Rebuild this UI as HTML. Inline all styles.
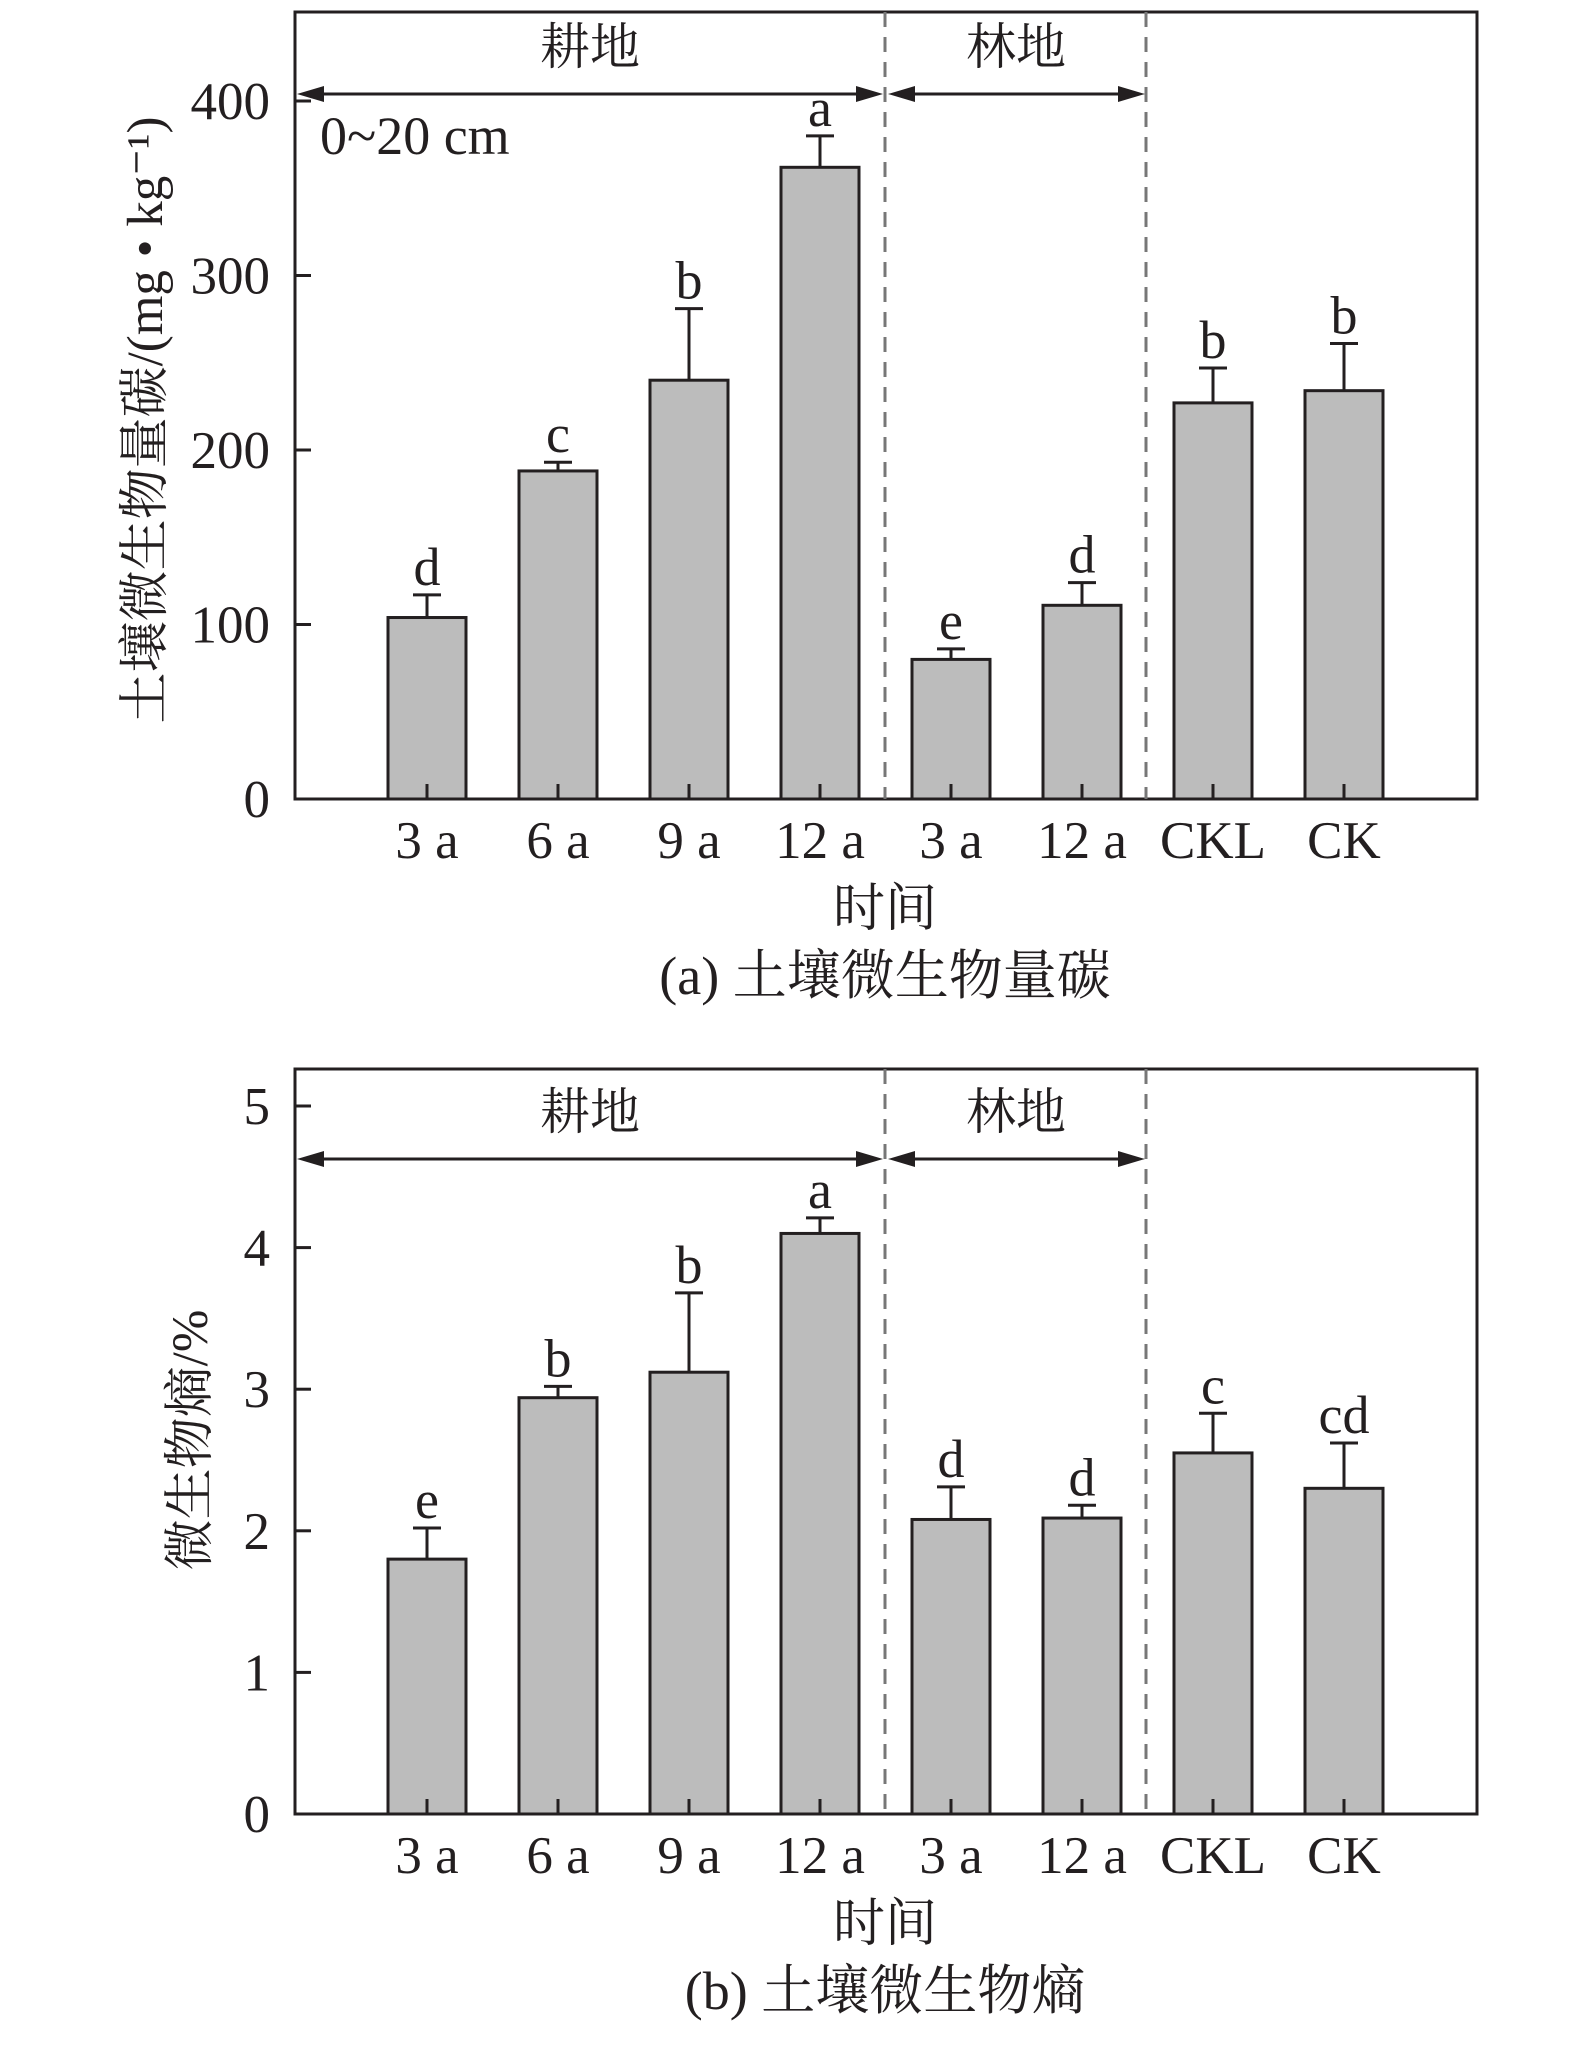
<!DOCTYPE html>
<html><head><meta charset="utf-8"><style>
html,body{margin:0;padding:0;background:#fff}
svg{display:block}
text{font-family:"Liberation Serif","Noto Serif CJK SC","Noto Sans CJK SC",serif;fill:#231f20}
</style></head><body>
<svg id="c" width="1575" height="2046" viewBox="0 0 1575 2046"></svg>
<script>
const categories=["3 a","6 a","9 a","12 a","3 a","12 a","CKL","CK"];
const valuesA=[104,188,240,362,80,111,227,234];
const errTopA=[117,193,281,380,86,124,247,261];
const lettersA=["d","c","b","a","e","d","b","b"];
const ticksA=[0,100,200,300,400];
const valuesB=[1.80,2.94,3.12,4.10,2.08,2.09,2.55,2.30];
const errTopB=[2.02,3.02,3.68,4.21,2.31,2.18,2.83,2.62];
const lettersB=["e","b","b","a","d","d","c","cd"];
const ticksB=[0,1,2,3,4,5];

const NS="http://www.w3.org/2000/svg";
const svg=document.getElementById('c');
function el(tag,attrs,parent,txt){const e=document.createElementNS(NS,tag);for(const k in attrs)e.setAttribute(k,attrs[k]);if(txt!==undefined)e.textContent=txt;(parent||svg).appendChild(e);return e;}
const L=295,R=1477;
function xPos(i){return 427+131*i;}

function panel(cfg){
  const g=el('g',{});
  
  
  const yS=v=>cfg.y0-(v-0)*(cfg.y0-cfg.yMaxPix)/cfg.vMax;
  const fr=el('rect',{x:L,y:cfg.top,width:R-L,height:cfg.y0-cfg.top,fill:'none',stroke:'#231f20','stroke-width':3},g);
  
  cfg.ticks.forEach(t=>{
    const y=yS(t);
    const tl=el('line',{x1:L,x2:L+16,y1:y,y2:y,stroke:'#231f20','stroke-width':3},g);
    
    const tx=el('text',{x:270,y:y+18,'text-anchor':'end','font-size':53},g,String(t));
    
  });
  [885,1146].forEach(x=>{
    const d=el('line',{x1:x,x2:x,y1:cfg.top,y2:cfg.y0,stroke:'#777','stroke-width':3,'stroke-dasharray':'15 10'},g);
    
  });
  function arrow(x1,x2,y,name){
    const a=el('g',{},g);
    
    el('line',{x1:x1+20,x2:x2-20,y1:y,y2:y,stroke:'#231f20','stroke-width':3},a);
    el('polygon',{points:`${x1},${y} ${x1+27},${y-8} ${x1+27},${y+8}`,fill:'#231f20'},a);
    el('polygon',{points:`${x2},${y} ${x2-27},${y-8} ${x2-27},${y+8}`,fill:'#231f20'},a);
  }
  arrow(297,883,cfg.arrowY,'cropland-arrow');
  arrow(888,1145,cfg.arrowY,'forest-arrow');
  const g1=el('text',{x:590,y:cfg.arrowY-30,'text-anchor':'middle','font-size':50},g,'耕地');
  
  const g2=el('text',{x:1016,y:cfg.arrowY-30,'text-anchor':'middle','font-size':50},g,'林地');
  
  categories.forEach((c,i)=>{
    const cx=xPos(i), yt=yS(cfg.values[i]);
    const b=el('rect',{x:cx-39,y:yt,width:78,height:cfg.y0-yt,fill:'#bcbcbc',stroke:'#231f20','stroke-width':3},g);
    
    const tk=el('line',{x1:cx,x2:cx,y1:cfg.y0,y2:cfg.y0-15,stroke:'#231f20','stroke-width':3},g);
    
    const ye=yS(cfg.err[i]);
    const eb=el('path',{d:`M${cx},${yt} V${ye} M${cx-14},${ye} H${cx+14}`,stroke:'#231f20','stroke-width':3,fill:'none'},g);
    
    const lt=el('text',{x:cx,y:ye-10,'text-anchor':'middle','font-size':54},g,cfg.letters[i]);
    
    const xl=el('text',{x:cx,y:cfg.y0+59,'text-anchor':'middle','font-size':53},g,c);
    
  });
  const xt=el('text',{x:885,y:cfg.y0+127,'text-anchor':'middle','font-size':52},g,'时间');
  
  const cp=el('text',{x:885,y:cfg.y0+195,'text-anchor':'middle','font-size':54},g,cfg.caption);
  
  const yt=el('text',{x:0,y:0,'text-anchor':'middle','font-size':51,transform:`translate(${cfg.yLabelX},${cfg.yLabelY}) rotate(-90)`},g,cfg.yLabel);
  
  return yS;
}
panel({name:'panel-a-microbial-biomass-carbon',top:12,y0:799,yMaxPix:101,vMax:400,ticks:ticksA,values:valuesA,err:errTopA,letters:lettersA,arrowY:94,caption:'(a) 土壤微生物量碳',yLabel:'土壤微生物量碳/(mg • kg⁻¹)',yLabelX:162,yLabelY:420});
panel({name:'panel-b-microbial-quotient',top:1069,y0:1814,yMaxPix:1106,vMax:5,ticks:ticksB,values:valuesB,err:errTopB,letters:lettersB,arrowY:1159,caption:'(b) 土壤微生物熵',yLabel:'微生物熵/%',yLabelX:207,yLabelY:1440});
const dep=el('text',{x:320,y:154,'font-size':54},svg,'0~20 cm');


</script>
</body></html>
